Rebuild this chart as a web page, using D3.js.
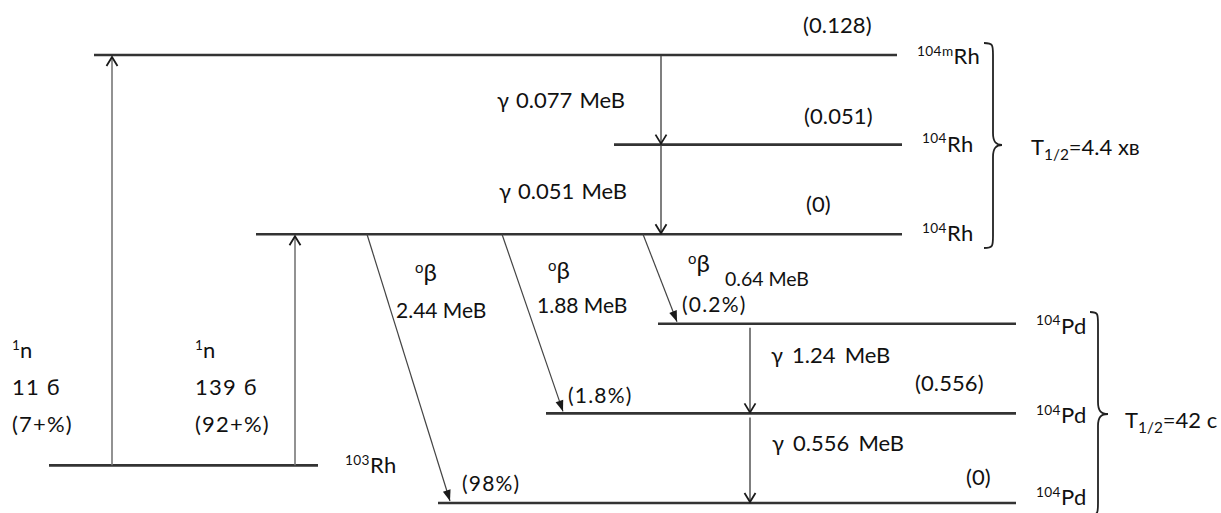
<!DOCTYPE html>
<html>
<head>
<meta charset="utf-8">
<script src="https://cdn.jsdelivr.net/npm/d3@7"></script>
<style>
  html, body { margin: 0; padding: 0; background: #fff; }
  svg { display: block; }
  text { font-family: Lato, "Open Sans", sans-serif; fill: #111; }
</style>
</head>
<body>
<svg id="chart" width="1221" height="513"></svg>
<script>
// ---- Level scheme: 103Rh(n,γ)104Rh → β⁻ → 104Pd ----
// Vertical position is schematic: "row" units, one row per level step.
const levelIds      = ["Rh104m", "Rh104a", "Rh104g", "Pd104b", "Pd104a", "Rh103", "Pd104g"];
const levelRows     = [0, 1, 2, 3, 4, 4.58, 5];
const levelFrom     = [94, 614, 256, 658, 546, 49, 438];
const levelTo       = [897, 902, 902, 1016, 1016, 318, 1016];
const levelEnergy   = ["(0.128)", "(0.051)", "(0)", "", "(0.556)", "", "(0)"];
const levelMass     = ["104m", "104", "104", "104", "104", "103", "104"];
const levelElement  = ["Rh", "Rh", "Rh", "Pd", "Pd", "Rh", "Pd"];

// neutron capture (upward), gamma transitions (downward)
const captureFrom   = ["Rh103", "Rh103"];
const captureTo     = ["Rh104m", "Rh104g"];
const captureX      = [112, 295];
const captureLines  = [["n", "11 б", "(7+%)"], ["n", "139 б", "(92+%)"]];

const gammaFrom     = ["Rh104m", "Rh104a", "Pd104b", "Pd104a"];
const gammaTo       = ["Rh104a", "Rh104g", "Pd104a", "Pd104g"];
const gammaX        = [661, 661, 750, 750];
const gammaEnergy   = ["0.077", "0.051", "1.24", "0.556"];

// beta decays of 104Rh ground state
const betaTo        = ["Pd104g", "Pd104a", "Pd104b"];
const betaX0        = [367, 502, 643];
const betaX1        = [450, 563, 677];
const betaEnergy    = ["2.44", "1.88", "0.64"];
const betaBranch    = ["(98%)", "(1.8%)", "(0.2%)"];

// half-lives of the two groups
const halfLives     = ["4.4 хв", "42 с"];
const groupLevels   = [["Rh104m", "Rh104g"], ["Pd104b", "Pd104g"]];

const svg = d3.select("#chart");
const y = d3.scaleLinear().domain([0, 5]).range([55, 503]);
const x = d3.scaleLinear().domain([0, 1221]).range([0, 1221]);

const rowOf = id => levelRows[levelIds.indexOf(id)];
const yOf = id => y(rowOf(id));

// markers
const defs = svg.append("defs");
defs.append("marker").attr("id", "chev").attr("viewBox", "-12 -7 14 14")
  .attr("refX", 0).attr("refY", 0).attr("markerWidth", 14).attr("markerHeight", 14)
  .attr("markerUnits", "userSpaceOnUse").attr("orient", "auto")
  .append("path").attr("d", "M-9,-5.5 L0,0 L-9,5.5").attr("fill", "none")
  .attr("stroke", "#1a1a1a").attr("stroke-width", 1.8);
defs.append("marker").attr("id", "tri").attr("viewBox", "-12 -6 14 12")
  .attr("refX", 0).attr("refY", 0).attr("markerWidth", 14).attr("markerHeight", 12)
  .attr("markerUnits", "userSpaceOnUse").attr("orient", "auto")
  .append("path").attr("d", "M-11,-4 L0,0 L-11,4 Z").attr("fill", "#1a1a1a");

// levels
svg.append("g").selectAll("line").data(levelIds).join("line")
  .attr("x1", (d, i) => x(levelFrom[i])).attr("x2", (d, i) => x(levelTo[i]))
  .attr("y1", d => yOf(d)).attr("y2", d => yOf(d))
  .attr("stroke", "#333").attr("stroke-width", 2.6);

// helper: text made of normal / sup / sub pieces
function rich(g, px, py, parts, size, spacing) {
  const t = g.append("text").attr("x", px).attr("y", py).attr("font-size", size)
    .attr("letter-spacing", spacing || 0);
  parts.forEach(p => {
    const s = t.append("tspan").text(p.t);
    if (p.sup) s.attr("font-size", size * 0.62).attr("dy", -size * 0.38);
    else if (p.sub) s.attr("font-size", size * 0.7).attr("dy", size * 0.22);
    else if (p.after !== undefined) s.attr("dy", p.after);
  });
  return t;
}
function plain(g, px, py, str, size, spacing) {
  return g.append("text").attr("x", px).attr("y", py).attr("font-size", size)
    .attr("letter-spacing", spacing || 0).text(str);
}

const fs = 22;
const labels = svg.append("g");

// nuclide labels to the right of the levels
levelIds.forEach((id, i) => {
  const isRh103 = id === "Rh103";
  const lx = isRh103 ? 345 : (levelElement[i] === "Pd" ? 1036 : (levelMass[i] === "104m" ? 917 : 922));
  const dy = isRh103 ? 8 : (id === "Pd104g" ? 2 : (levelElement[i] === "Pd" ? 10 : (id === "Rh104m" ? 9 : 7)));
  rich(labels, lx, yOf(id) + dy,
    [{ t: levelMass[i], sup: true }, { t: levelElement[i], after: fs * 0.38 }], fs, 0.4);
});

// level energies (MeV)
const energyX = { Rh104m: 803, Rh104a: 804, Rh104g: 806, Pd104a: 915, Pd104g: 966 };
const energyDy = { Rh104m: -22, Rh104a: -21, Rh104g: -22, Pd104a: -22, Pd104g: -18 };
levelIds.forEach((id, i) => {
  if (!levelEnergy[i]) return;
  plain(labels, energyX[id], yOf(id) + energyDy[id], levelEnergy[i], fs, 0.1);
});

// neutron capture arrows
const arrows = svg.append("g");
captureFrom.forEach((f, i) => {
  arrows.append("line").attr("x1", x(captureX[i])).attr("x2", x(captureX[i]))
    .attr("y1", yOf(f)).attr("y2", yOf(captureTo[i]) + 2)
    .attr("stroke", "#777").attr("stroke-width", 1.6).attr("marker-end", "url(#chev)");
  const tx = [12, 195][i];
  rich(labels, tx, 358, [{ t: "1", sup: true }, { t: captureLines[i][0], after: fs * 0.38 }], fs);
  plain(labels, tx, 395, captureLines[i][1], fs, 1.2);
  plain(labels, tx, 432, captureLines[i][2], fs, 1.2);
});

// gamma transitions
const gammaLabelX = [497, 499, 771, 772];
gammaFrom.forEach((f, i) => {
  const y0 = yOf(f), y1 = yOf(gammaTo[i]);
  arrows.append("line").attr("x1", x(gammaX[i])).attr("x2", x(gammaX[i]))
    .attr("y1", y0 + (i >= 2 ? 4 : 1)).attr("y2", y1 - 1)
    .attr("stroke", "#555").attr("stroke-width", 1.5).attr("marker-end", "url(#chev)");
  plain(labels, gammaLabelX[i], y0 + [53, 54, 39, 38][i], "γ " + gammaEnergy[i] + " MeB", fs)
    .attr("word-spacing", i >= 2 ? 3.5 : 1.5);
});

// beta decays
const y0b = yOf("Rh104g");
betaTo.forEach((to, i) => {
  arrows.append("line").attr("x1", x(betaX0[i])).attr("y1", y0b)
    .attr("x2", x(betaX1[i])).attr("y2", yOf(to) - 2)
    .attr("stroke", "#444").attr("stroke-width", 1.2).attr("marker-end", "url(#tri)");
});
const bSym = [[415, 282], [548, 280], [688, 273]];
const bEn = [[396, 318, 21], [537, 313, 21], [725, 286, 19.5]];
const bBr = [[462, 491], [568, 403], [682, 312]];
betaTo.forEach((to, i) => {
  rich(labels, bSym[i][0], bSym[i][1], [{ t: "o", sup: true }, { t: "β", after: fs * 0.38 }], 24);
  plain(labels, bEn[i][0], bEn[i][1], betaEnergy[i] + " MeB", bEn[i][2]);
  plain(labels, bBr[i][0], bBr[i][1], betaBranch[i], 21, 1.2);
});

// braces grouping each nucleus, with half-life
const braceX = [[984, 993, 1002], [1090, 1098, 1108]];
const braceSpan = [[43, 248], [312, 515]];
const braceTip = [145, 414];
const halfX = [1031, 1125], halfY = [155, 428];
groupLevels.forEach((g, i) => {
  const [a, b, c] = braceX[i], [t, bt] = braceSpan[i], m = braceTip[i], r = 12;
  const p = d3.path();
  p.moveTo(a, t);
  p.bezierCurveTo(b, t, b, t + 2, b, t + r);
  p.lineTo(b, m - r);
  p.bezierCurveTo(b, m - 3, b + 3, m, c, m);
  p.bezierCurveTo(b + 3, m, b, m + 3, b, m + r);
  p.lineTo(b, bt - r);
  p.bezierCurveTo(b, bt - 2, b, bt, a, bt);
  svg.append("path").attr("d", p.toString()).attr("fill", "none")
    .attr("stroke", "#222").attr("stroke-width", 1.8);
  rich(labels, halfX[i], halfY[i],
    [{ t: "T" }, { t: "1/2", sub: true }, { t: "=" + halfLives[i], after: -fs * 0.22 }], fs);
});
</script>
</body>
</html>
